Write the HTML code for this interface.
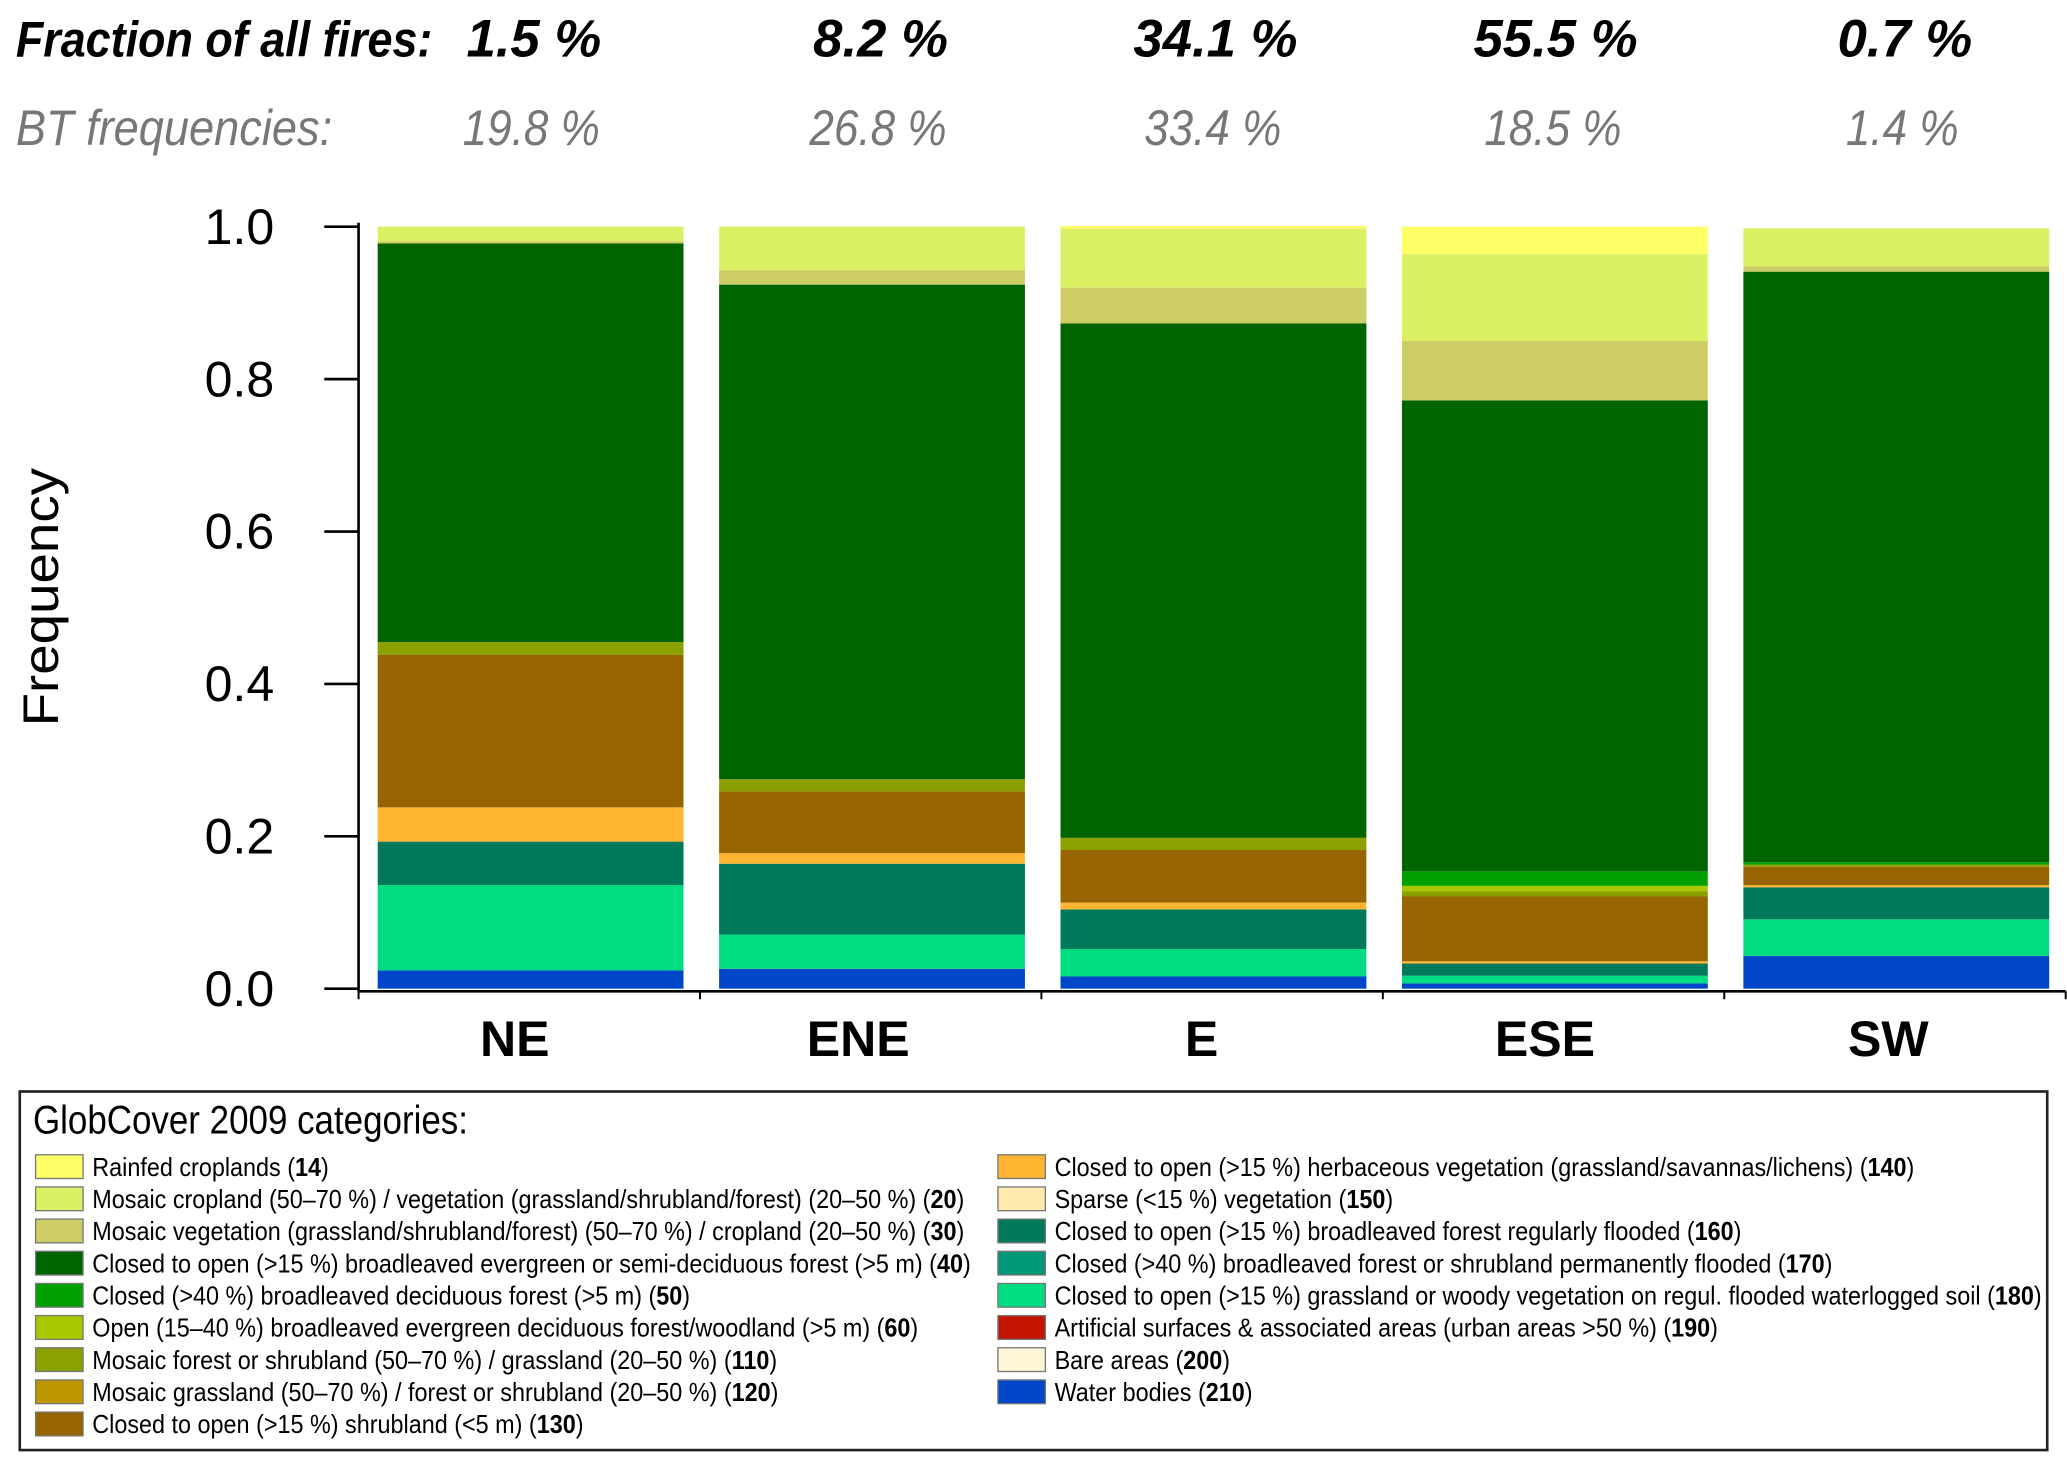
<!DOCTYPE html>
<html><head><meta charset="utf-8"><style>
html,body{margin:0;padding:0;background:#fff;}
svg{display:block;}
text{font-family:"Liberation Sans",sans-serif;}
</style></head><body>
<svg id="chart" width="2067" height="1468" viewBox="0 0 1568 1113.6" xmlns="http://www.w3.org/2000/svg">
<g id="header"></g>
<g id="axes"></g>
<g id="bars"></g>
<g id="legend"></g>
</svg>
<script>
const categories = ["NE","ENE","E","ESE","SW"];
const fractionFires = ["1.5 %","8.2 %","34.1 %","55.5 %","0.7 %"];
const btFreq = ["19.8 %","26.8 %","33.4 %","18.5 %","1.4 %"];
const classCodes = [210,180,160,140,130,110,60,50,40,30,20,14];
const valsNE  = [0.024,0.112,0.057,0.045,0.200,0.017,0,0,0.523,0.003,0.019,0];
const valsENE = [0.026,0.045,0.093,0.014,0.081,0.016,0,0,0.649,0.019,0.057,0];
const valsE   = [0.016,0.036,0.052,0.009,0.069,0.016,0,0,0.675,0.047,0.078,0.003];
const valsESE = [0.007,0.010,0.016,0.003,0.085,0.007,0.007,0.019,0.618,0.078,0.114,0.036];
const valsSW  = [0.043,0.048,0.042,0.003,0.024,0.003,0,0.003,0.775,0.007,0.050,0];
const seriesByBar = [valsNE,valsENE,valsE,valsESE,valsSW];
const yTicks = [0,0.2,0.4,0.6,0.8,1.0];
const yTickLabels = ["0.0","0.2","0.4","0.6","0.8","1.0"];
const classColors = {14:"#ffff66",20:"#dcf064",30:"#cdcd66",40:"#006400",50:"#00a000",60:"#aac800",110:"#8ca000",120:"#be9600",130:"#966400",140:"#ffb432",150:"#ffebaf",160:"#00785a",170:"#009678",180:"#00dc82",190:"#c31400",200:"#fff5d7",210:"#0046c8"};

const NS="http://www.w3.org/2000/svg";
function mk(tag,attrs,parent,txt){const e=document.createElementNS(NS,tag);for(const k in attrs)e.setAttribute(k,attrs[k]);if(txt!==undefined)e.textContent=txt;parent.appendChild(e);return e;}
const plotL=272, plotR=1567, y0=750, y1=172;
const slotW=(plotR-plotL)/categories.length;
const barW=232;
const yScale=v=>y0-(y0-y1)*v;
const xCenter=i=>plotL+slotW*(i+0.5)+1;

// header
const H=document.getElementById('header');
let t=mk('text',{x:12,y:43,'font-size':38,'font-weight':'bold','font-style':'italic',fill:'#000',textLength:316,lengthAdjust:'spacingAndGlyphs'},H,"Fraction of all fires:");

t=mk('text',{x:12,y:110,'font-size':38,'font-style':'italic',fill:'#777',textLength:240,lengthAdjust:'spacingAndGlyphs'},H,"BT frequencies:");

const hdrX=[405,668,922,1180,1445];
categories.forEach((c,i)=>{
  let a=mk('text',{x:hdrX[i],y:43,'font-size':40,'font-weight':'bold','font-style':'italic','text-anchor':'middle',fill:'#000'},H,fractionFires[i]);
  
  
  let b=mk('text',{x:hdrX[i]-2,y:110,'font-size':38,'font-style':'italic','text-anchor':'middle',fill:'#777',transform:'translate('+(hdrX[i]-2)+',0) scale(0.88,1) translate('+(-(hdrX[i]-2))+',0)'},H,btFreq[i]);
  
  
});

// bars
const B=document.getElementById('bars');
seriesByBar.forEach((vals,i)=>{
  const g=mk('g',{},B);
  
  
  let cum=0;const x=xCenter(i)-barW/2;
  vals.forEach((v,j)=>{
    if(v<=0)return;
    const ya=yScale(cum), yb=yScale(cum+v); cum+=v;
    const r=mk('rect',{x:x,y:yb,width:barW,height:ya-yb,fill:classColors[classCodes[j]]},g);
    
    
  });
});

// axes
const A=document.getElementById('axes');
let l=mk('line',{x1:plotL,y1:y1-3,x2:plotL,y2:y0+2,stroke:'#000','stroke-width':2},A);

l=mk('line',{x1:plotL,y1:y0+2,x2:plotR,y2:y0+2,stroke:'#000','stroke-width':2},A);

yTicks.forEach((v,k)=>{
  const y=yScale(v);
  const tk=mk('line',{x1:plotL-26,y1:y,x2:plotL,y2:y,stroke:'#000','stroke-width':2},A);
  
  const tl=mk('text',{x:208,y:y+13,'font-size':38,'text-anchor':'end',fill:'#000'},A,yTickLabels[k]);
  
});
for(let i=0;i<=categories.length;i++){
  const x=plotL+slotW*i;
  const tk=mk('line',{x1:x,y1:y0+2,x2:x,y2:y0+8,stroke:'#000','stroke-width':1.5},A);
  
}
categories.forEach((c,i)=>{
  const tl=mk('text',{x:xCenter(i)-12+i*1.5,y:801,'font-size':38,'font-weight':'bold','text-anchor':'middle',fill:'#000'},A,c);
  
});
const yt=mk('text',{x:0,y:0,'font-size':38,'text-anchor':'middle',fill:'#000',transform:'translate(44,453) rotate(-90)',textLength:196,lengthAdjust:'spacingAndGlyphs'},A,"Frequency");


// legend
const L=document.getElementById('legend');
const lb=mk('rect',{x:15,y:828,width:1538,height:272,fill:'#fff',stroke:'#222','stroke-width':2},L);

const lt=mk('text',{x:25,y:860,'font-size':30,fill:'#000',textLength:330,lengthAdjust:'spacingAndGlyphs'},L,"GlobCover 2009 categories:");

const leftItems=[[14,"Rainfed croplands"],[20,"Mosaic cropland (50–70 %) / vegetation (grassland/shrubland/forest) (20–50 %)"],[30,"Mosaic vegetation (grassland/shrubland/forest) (50–70 %) / cropland (20–50 %)"],[40,"Closed to open (>15 %) broadleaved evergreen or semi-deciduous forest (>5 m)"],[50,"Closed (>40 %) broadleaved deciduous forest (>5 m)"],[60,"Open (15–40 %) broadleaved evergreen deciduous forest/woodland (>5 m)"],[110,"Mosaic forest or shrubland (50–70 %) / grassland (20–50 %)"],[120,"Mosaic grassland (50–70 %) / forest or shrubland (20–50 %)"],[130,"Closed to open (>15 %) shrubland (<5 m)"]];
const rightItems=[[140,"Closed to open (>15 %) herbaceous vegetation (grassland/savannas/lichens)"],[150,"Sparse (<15 %) vegetation"],[160,"Closed to open (>15 %) broadleaved forest regularly flooded"],[170,"Closed (>40 %) broadleaved forest or shrubland permanently  flooded"],[180,"Closed to open (>15 %) grassland or woody vegetation on regul. flooded waterlogged soil"],[190,"Artificial surfaces & associated areas (urban areas >50 %)"],[200,"Bare areas"],[210,"Water bodies"]];
function legendCol(items,sx,tx){
  items.forEach((it,k)=>{
    const y=885+k*24.4;
    const g=mk('g',{},L);
    
    
    mk('rect',{x:sx,y:y-9,width:36,height:18,fill:classColors[it[0]],stroke:'#777','stroke-width':1},g);
    const tx2=mk('text',{x:tx,y:y+7,'font-size':19.5,fill:'#000',transform:'translate('+tx+',0) scale(0.91,1) translate('+(-tx)+',0)'},g);
    mk('tspan',{},tx2,it[1]+" (");
    mk('tspan',{'font-weight':'bold'},tx2,String(it[0]));
    mk('tspan',{},tx2,")");
  });
}
legendCol(leftItems,27,70);
legendCol(rightItems,757,800);
</script>
</body></html>
